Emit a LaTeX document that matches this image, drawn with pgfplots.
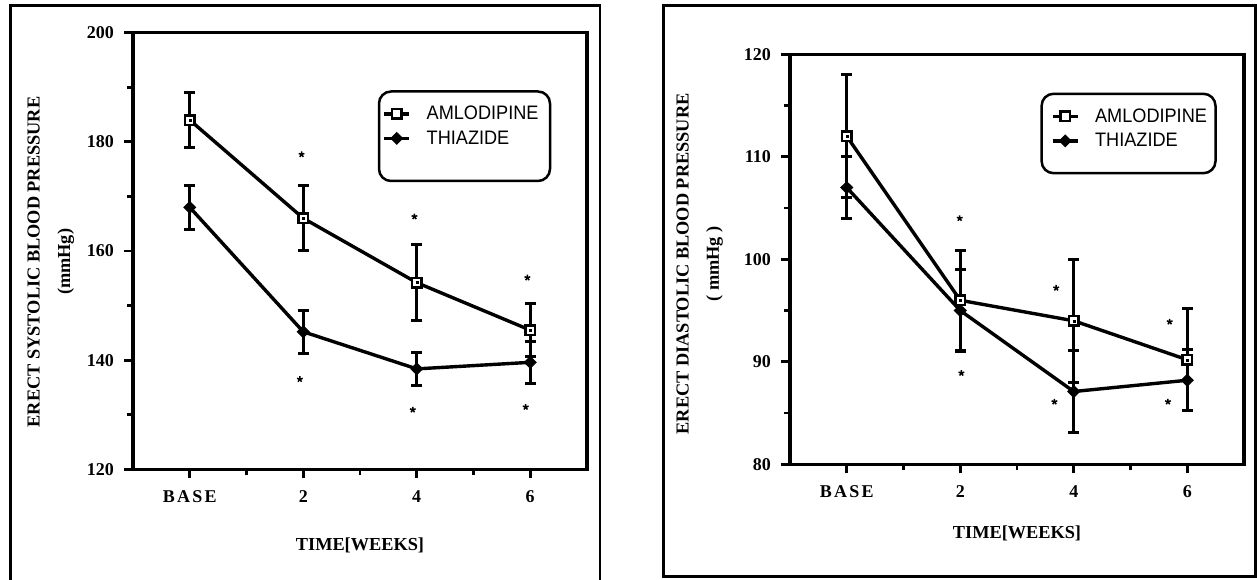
\documentclass[border=0pt]{standalone}
\usepackage{pgfplots}
\pgfplotsset{compat=1.18}
\usepackage{fontspec}
\setmainfont{Liberation Serif}
\newfontfamily\arialfont[FakeStretch=0.93]{Liberation Sans}

\pgfplotsset{
  bpaxis/.style={
    scale only axis, width=454pt, anchor=south west,
    xmin=-1, xmax=7,
    xtick={0,2,4,6}, xticklabels={B\kern2.2pt A\kern2.2pt S\kern2.2pt E,2,4,6},
    minor xtick={1,3,5},
    tick align=outside, xtick pos=left, ytick pos=left,
    major tick length=9pt, minor tick length=6pt,
    tick style={line width=2.8pt, black},
    axis line style={line width=3.2pt},
    ticklabel style={font=\bfseries\fontsize{18}{21}\selectfont, inner sep=0pt},
    xticklabel style={anchor=north, yshift=-12.5pt},
    yticklabel style={anchor=east, xshift=-10pt},
    label style={font=\bfseries\fontsize{18.3}{22}\selectfont},
    ylabel style={anchor=center, align=center},
    xlabel style={anchor=center},
    clip=false,
    legend cell align=left,
    legend style={draw=none, fill=none, anchor=north west, inner sep=0pt, outer sep=0pt,
      font=\arialfont\fontsize{19.5}{23}\selectfont, column sep=13.7pt, row sep=5.5pt},
    legend image code/.code={\draw[mark repeat=2, mark phase=2] plot coordinates {(0pt,0pt)(12.5pt,0pt)(25pt,0pt)};},
  },
  amlo/.style={black, line width=3.4pt, mark=square*, mark size=4.8pt, mark options={fill=white, line width=2.6pt},
    error bars/.cd, y dir=both, y explicit, error bar style={line width=3pt}, error mark options={rotate=90, mark size=5.5pt, line width=3pt}},
  thia/.style={black, line width=3.4pt, mark=diamond*, mark size=5.8pt, mark options={fill=black, line width=1pt, xscale=1.35},
    error bars/.cd, y dir=both, y explicit, error bar style={line width=3pt}, error mark options={rotate=90, mark size=5.5pt, line width=3pt}},
  dots/.style={only marks, black, mark=square*, mark size=1pt, forget plot},
  stars/.style={only marks, black, mark=star, mark size=3pt, mark options={line width=1.5pt}, forget plot},
}

\begin{document}
\begin{tikzpicture}[x=1pt,y=1pt]
\path[use as bounding box] (0,0) rectangle (1257,580);
\draw[line width=2.7pt] (10.7,-5) -- (10.7,574.3) -- (600,574.3) -- (600,-5);
\draw[line width=2.7pt] (663.3,3.3) rectangle (1255.5,574.3);

% Left panel
\begin{axis}[bpaxis, at={(133pt,110.7pt)}, height=436.6pt,
  ymin=120, ymax=200, ytick={120,140,160,180,200}, yticklabels={120,140,160,180,200},
  minor ytick={130,150,170,190},
  xlabel={TIME[WEEKS]}, xlabel style={at={(axis description cs:0.5,-0.174)}},
  ylabel={ERECT SYSTOLIC BLOOD PRESSURE\\[8.7pt](mmHg)},
  ylabel style={at={(axis description cs:-0.181,0.475)}},
  legend style={at={(rel axis cs:0.5498,0.836)}}]
\addplot[amlo] coordinates {(0,184) +- (0,5) (2,166) +- (0,6) (4,154.2) +- (0,6.9) (6,145.5) +- (0,4.8)};
\addplot[thia] coordinates {(0,168) +- (0,4) (2,145.2) +- (0,3.9) (4,138.4) +- (0,3) (6,139.6) +- (0,3.8)};
\addplot[dots] coordinates {(0,184) (2,166) (4,154.2) (6,145.5)};
\addplot[stars] coordinates {(1.97,177.7) (1.94,136.5) (3.96,166.3) (3.93,130.9) (5.95,155.1) (5.92,131.4)};
\legend{AMLODIPINE,THIAZIDE}
\end{axis}
\draw[line width=2.5pt, rounded corners=12pt] (379,488.5) rectangle (550,399);

% Right panel
\begin{axis}[bpaxis, at={(790pt,115.7pt)}, height=410pt,
  ymin=80, ymax=120, ytick={80,90,100,110,120}, yticklabels={80,90,100,110,120},
  minor ytick={85,95,105,115},
  xlabel={TIME[WEEKS]}, xlabel style={at={(axis description cs:0.5,-0.168)}},
  ylabel={ERECT DIASTOLIC BLOOD PRESSURE\\[8.1pt]( mmHg )},
  ylabel style={at={(axis description cs:-0.199,0.489)}},
  legend style={at={(rel axis cs:0.5749,0.872)}}]
\addplot[amlo] coordinates {(0,112) +- (0,6) (2,96) +- (0,4.9) (4,94) +- (0,6) (6,90.2) +- (0,5)};
\addplot[thia] coordinates {(0,107) +- (0,3) (2,95) +- (0,4) (4,87.1) +- (0,4) (6,88.2) +- (0,3)};
\addplot[dots] coordinates {(0,112) (2,96) (4,94) (6,90.2)};
\addplot[stars] coordinates {(1.99,104.0) (2.02,88.9) (3.69,97.2) (3.66,86.1) (5.69,93.9) (5.66,86.1)};
\legend{AMLODIPINE,THIAZIDE}
\end{axis}
\draw[line width=2.5pt, rounded corners=12pt] (1041.6,486.2) rectangle (1215.5,406.8);
\end{tikzpicture}
\end{document}
